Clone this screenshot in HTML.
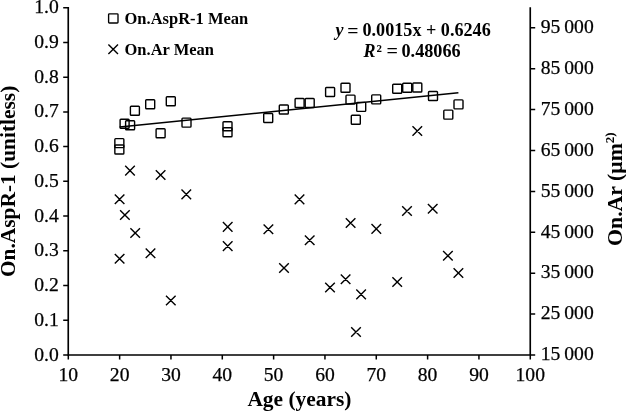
<!DOCTYPE html>
<html><head><meta charset="utf-8"><style>
html,body{margin:0;padding:0;background:#fff;width:626px;height:411px;overflow:hidden}
svg{display:block}
</style></head><body>
<svg width="626" height="411" viewBox="0 0 626 411"><path d="M68.25 7 V355 M67.4 355 H531.1 M530.25 7.2 V355" fill="none" stroke="#000" stroke-width="1.65"/>
<path d="M63.2 355.00H68 M63.2 320.27H68 M63.2 285.54H68 M63.2 250.81H68 M63.2 216.08H68 M63.2 181.35H68 M63.2 146.62H68 M63.2 111.89H68 M63.2 77.16H68 M63.2 42.43H68 M63.2 7.70H68 M68.30 355V359.5 M119.63 355V359.5 M170.96 355V359.5 M222.29 355V359.5 M273.62 355V359.5 M324.95 355V359.5 M376.28 355V359.5 M427.61 355V359.5 M478.94 355V359.5 M530.27 355V359.5 M530.25 355.00H535.2 M530.25 314.10H535.2 M530.25 273.20H535.2 M530.25 232.30H535.2 M530.25 191.40H535.2 M530.25 150.50H535.2 M530.25 109.60H535.2 M530.25 68.70H535.2 M530.25 27.80H535.2" fill="none" stroke="#000" stroke-width="1.5"/>
<g font-family="Liberation Serif, serif" font-size="19.6" fill="#000" stroke="#000" stroke-width="0.25"><text x="58.8" y="360.60" text-anchor="end">0.0</text><text x="58.8" y="325.87" text-anchor="end">0.1</text><text x="58.8" y="291.14" text-anchor="end">0.2</text><text x="58.8" y="256.41" text-anchor="end">0.3</text><text x="58.8" y="221.68" text-anchor="end">0.4</text><text x="58.8" y="186.95" text-anchor="end">0.5</text><text x="58.8" y="152.22" text-anchor="end">0.6</text><text x="58.8" y="117.49" text-anchor="end">0.7</text><text x="58.8" y="82.76" text-anchor="end">0.8</text><text x="58.8" y="48.03" text-anchor="end">0.9</text><text x="58.8" y="13.30" text-anchor="end">1.0</text><text x="68.30" y="380.6" text-anchor="middle">10</text><text x="119.63" y="380.6" text-anchor="middle">20</text><text x="170.96" y="380.6" text-anchor="middle">30</text><text x="222.29" y="380.6" text-anchor="middle">40</text><text x="273.62" y="380.6" text-anchor="middle">50</text><text x="324.95" y="380.6" text-anchor="middle">60</text><text x="376.28" y="380.6" text-anchor="middle">70</text><text x="427.61" y="380.6" text-anchor="middle">80</text><text x="478.94" y="380.6" text-anchor="middle">90</text><text x="530.27" y="380.6" text-anchor="middle">100</text><text x="540.8" y="360.20" font-size="19.6">15 000</text><text x="540.8" y="319.30" font-size="19.6">25 000</text><text x="540.8" y="278.40" font-size="19.6">35 000</text><text x="540.8" y="237.50" font-size="19.6">45 000</text><text x="540.8" y="196.60" font-size="19.6">55 000</text><text x="540.8" y="155.70" font-size="19.6">65 000</text><text x="540.8" y="114.80" font-size="19.6">75 000</text><text x="540.8" y="73.90" font-size="19.6">85 000</text><text x="540.8" y="33.00" font-size="19.6">95 000</text></g>
<line x1="119.63" y1="127.06" x2="458.41" y2="92.67" stroke="#000" stroke-width="1.5"/>
<g fill="none" stroke="#000" stroke-width="1.4"><rect x="114.85" y="138.60" width="9.0" height="9.0" rx="0.8"/><rect x="114.85" y="144.95" width="9.0" height="9.0" rx="0.8"/><rect x="120.10" y="119.30" width="9.0" height="9.0" rx="0.8"/><rect x="125.60" y="120.80" width="9.0" height="9.0" rx="0.8"/><rect x="130.40" y="106.20" width="9.0" height="9.0" rx="0.8"/><rect x="145.70" y="99.80" width="9.0" height="9.0" rx="0.8"/><rect x="156.10" y="128.80" width="9.0" height="9.0" rx="0.8"/><rect x="166.30" y="96.80" width="9.0" height="9.0" rx="0.8"/><rect x="182.00" y="118.10" width="9.0" height="9.0" rx="0.8"/><rect x="223.00" y="121.70" width="9.0" height="9.0" rx="0.8"/><rect x="223.00" y="127.80" width="9.0" height="9.0" rx="0.8"/><rect x="263.70" y="113.50" width="9.0" height="9.0" rx="0.8"/><rect x="279.30" y="105.00" width="9.0" height="9.0" rx="0.8"/><rect x="295.10" y="98.50" width="9.0" height="9.0" rx="0.8"/><rect x="305.20" y="98.50" width="9.0" height="9.0" rx="0.8"/><rect x="325.60" y="87.50" width="9.0" height="9.0" rx="0.8"/><rect x="341.00" y="83.20" width="9.0" height="9.0" rx="0.8"/><rect x="346.00" y="95.10" width="9.0" height="9.0" rx="0.8"/><rect x="351.30" y="115.20" width="9.0" height="9.0" rx="0.8"/><rect x="356.70" y="102.40" width="9.0" height="9.0" rx="0.8"/><rect x="371.70" y="94.90" width="9.0" height="9.0" rx="0.8"/><rect x="392.70" y="84.20" width="9.0" height="9.0" rx="0.8"/><rect x="402.70" y="83.20" width="9.0" height="9.0" rx="0.8"/><rect x="412.80" y="83.00" width="9.0" height="9.0" rx="0.8"/><rect x="428.50" y="91.50" width="9.0" height="9.0" rx="0.8"/><rect x="443.80" y="110.10" width="9.0" height="9.0" rx="0.8"/><rect x="454.00" y="99.90" width="9.0" height="9.0" rx="0.8"/></g>
<path d="M125.20 165.80L134.80 175.40M125.20 175.40L134.80 165.80 M155.80 170.20L165.40 179.80M155.80 179.80L165.40 170.20 M114.80 194.40L124.40 204.00M114.80 204.00L124.40 194.40 M120.10 210.20L129.70 219.80M120.10 219.80L129.70 210.20 M130.40 228.20L140.00 237.80M130.40 237.80L140.00 228.20 M114.80 253.90L124.40 263.50M114.80 263.50L124.40 253.90 M145.70 248.50L155.30 258.10M145.70 258.10L155.30 248.50 M166.00 295.70L175.60 305.30M166.00 305.30L175.60 295.70 M181.50 189.60L191.10 199.20M181.50 199.20L191.10 189.60 M222.90 222.10L232.50 231.70M222.90 231.70L232.50 222.10 M222.90 241.30L232.50 250.90M222.90 250.90L232.50 241.30 M263.60 224.50L273.20 234.10M263.60 234.10L273.20 224.50 M279.20 263.20L288.80 272.80M279.20 272.80L288.80 263.20 M294.70 194.60L304.30 204.20M294.70 204.20L304.30 194.60 M304.90 235.40L314.50 245.00M304.90 245.00L314.50 235.40 M325.20 282.70L334.80 292.30M325.20 292.30L334.80 282.70 M340.80 274.40L350.40 284.00M340.80 284.00L350.40 274.40 M345.80 218.20L355.40 227.80M345.80 227.80L355.40 218.20 M351.20 327.20L360.80 336.80M351.20 336.80L360.80 327.20 M356.30 289.60L365.90 299.20M356.30 299.20L365.90 289.60 M371.50 224.10L381.10 233.70M371.50 233.70L381.10 224.10 M392.40 277.20L402.00 286.80M392.40 286.80L402.00 277.20 M402.20 206.20L411.80 215.80M402.20 215.80L411.80 206.20 M412.50 126.20L422.10 135.80M412.50 135.80L422.10 126.20 M427.90 203.90L437.50 213.50M427.90 213.50L437.50 203.90 M443.10 251.00L452.70 260.60M443.10 260.60L452.70 251.00 M453.60 268.20L463.20 277.80M453.60 277.80L463.20 268.20" fill="none" stroke="#000" stroke-width="1.4"/>
<rect x="108.60" y="13.80" width="9.4" height="9.2" rx="0.8" fill="none" stroke="#000" stroke-width="1.35"/>
<path d="M108.40 44.50L118.00 54.10M108.40 54.10L118.00 44.50" fill="none" stroke="#000" stroke-width="1.4"/>
<g font-family="Liberation Serif, serif" font-size="16.5" font-weight="bold" fill="#000"><text x="124.5" y="24.1">On.AspR-1 Mean</text><text x="124.5" y="54.6">On.Ar Mean</text></g>
<g font-family="Liberation Serif, serif" font-size="18" font-weight="bold" fill="#000" text-anchor="middle"><text x="335.4" y="36.3" font-style="italic" text-anchor="start">y</text><text x="362.5" y="36.3" text-anchor="start" font-size="18.15">0.0015x + 0.6246</text></g>
<g font-family="Liberation Serif, serif" font-size="18" font-weight="bold" fill="#000"><text x="363.6" y="56.9" font-style="italic">R</text><text x="376.4" y="56.9">²</text><text transform="translate(386.6 57.2) scale(1.12 1)">=</text><text x="401.5" y="56.9" font-size="18.2">0.48066</text><text transform="translate(347.2 36.5) scale(1.1 1)">=</text></g>
<g font-family="Liberation Serif, serif" font-size="21.4" font-weight="bold" fill="#000"><text x="299.4" y="405.6" text-anchor="middle">Age (years)</text><text transform="translate(15.3 181.4) rotate(-90)" text-anchor="middle">On.AspR-1 (unitless)</text><text transform="translate(622 189.1) rotate(-90)" text-anchor="middle" font-size="21.8">On.Ar (μm<tspan font-size="13" dy="-8">2)</tspan></text></g></svg>
</body></html>
